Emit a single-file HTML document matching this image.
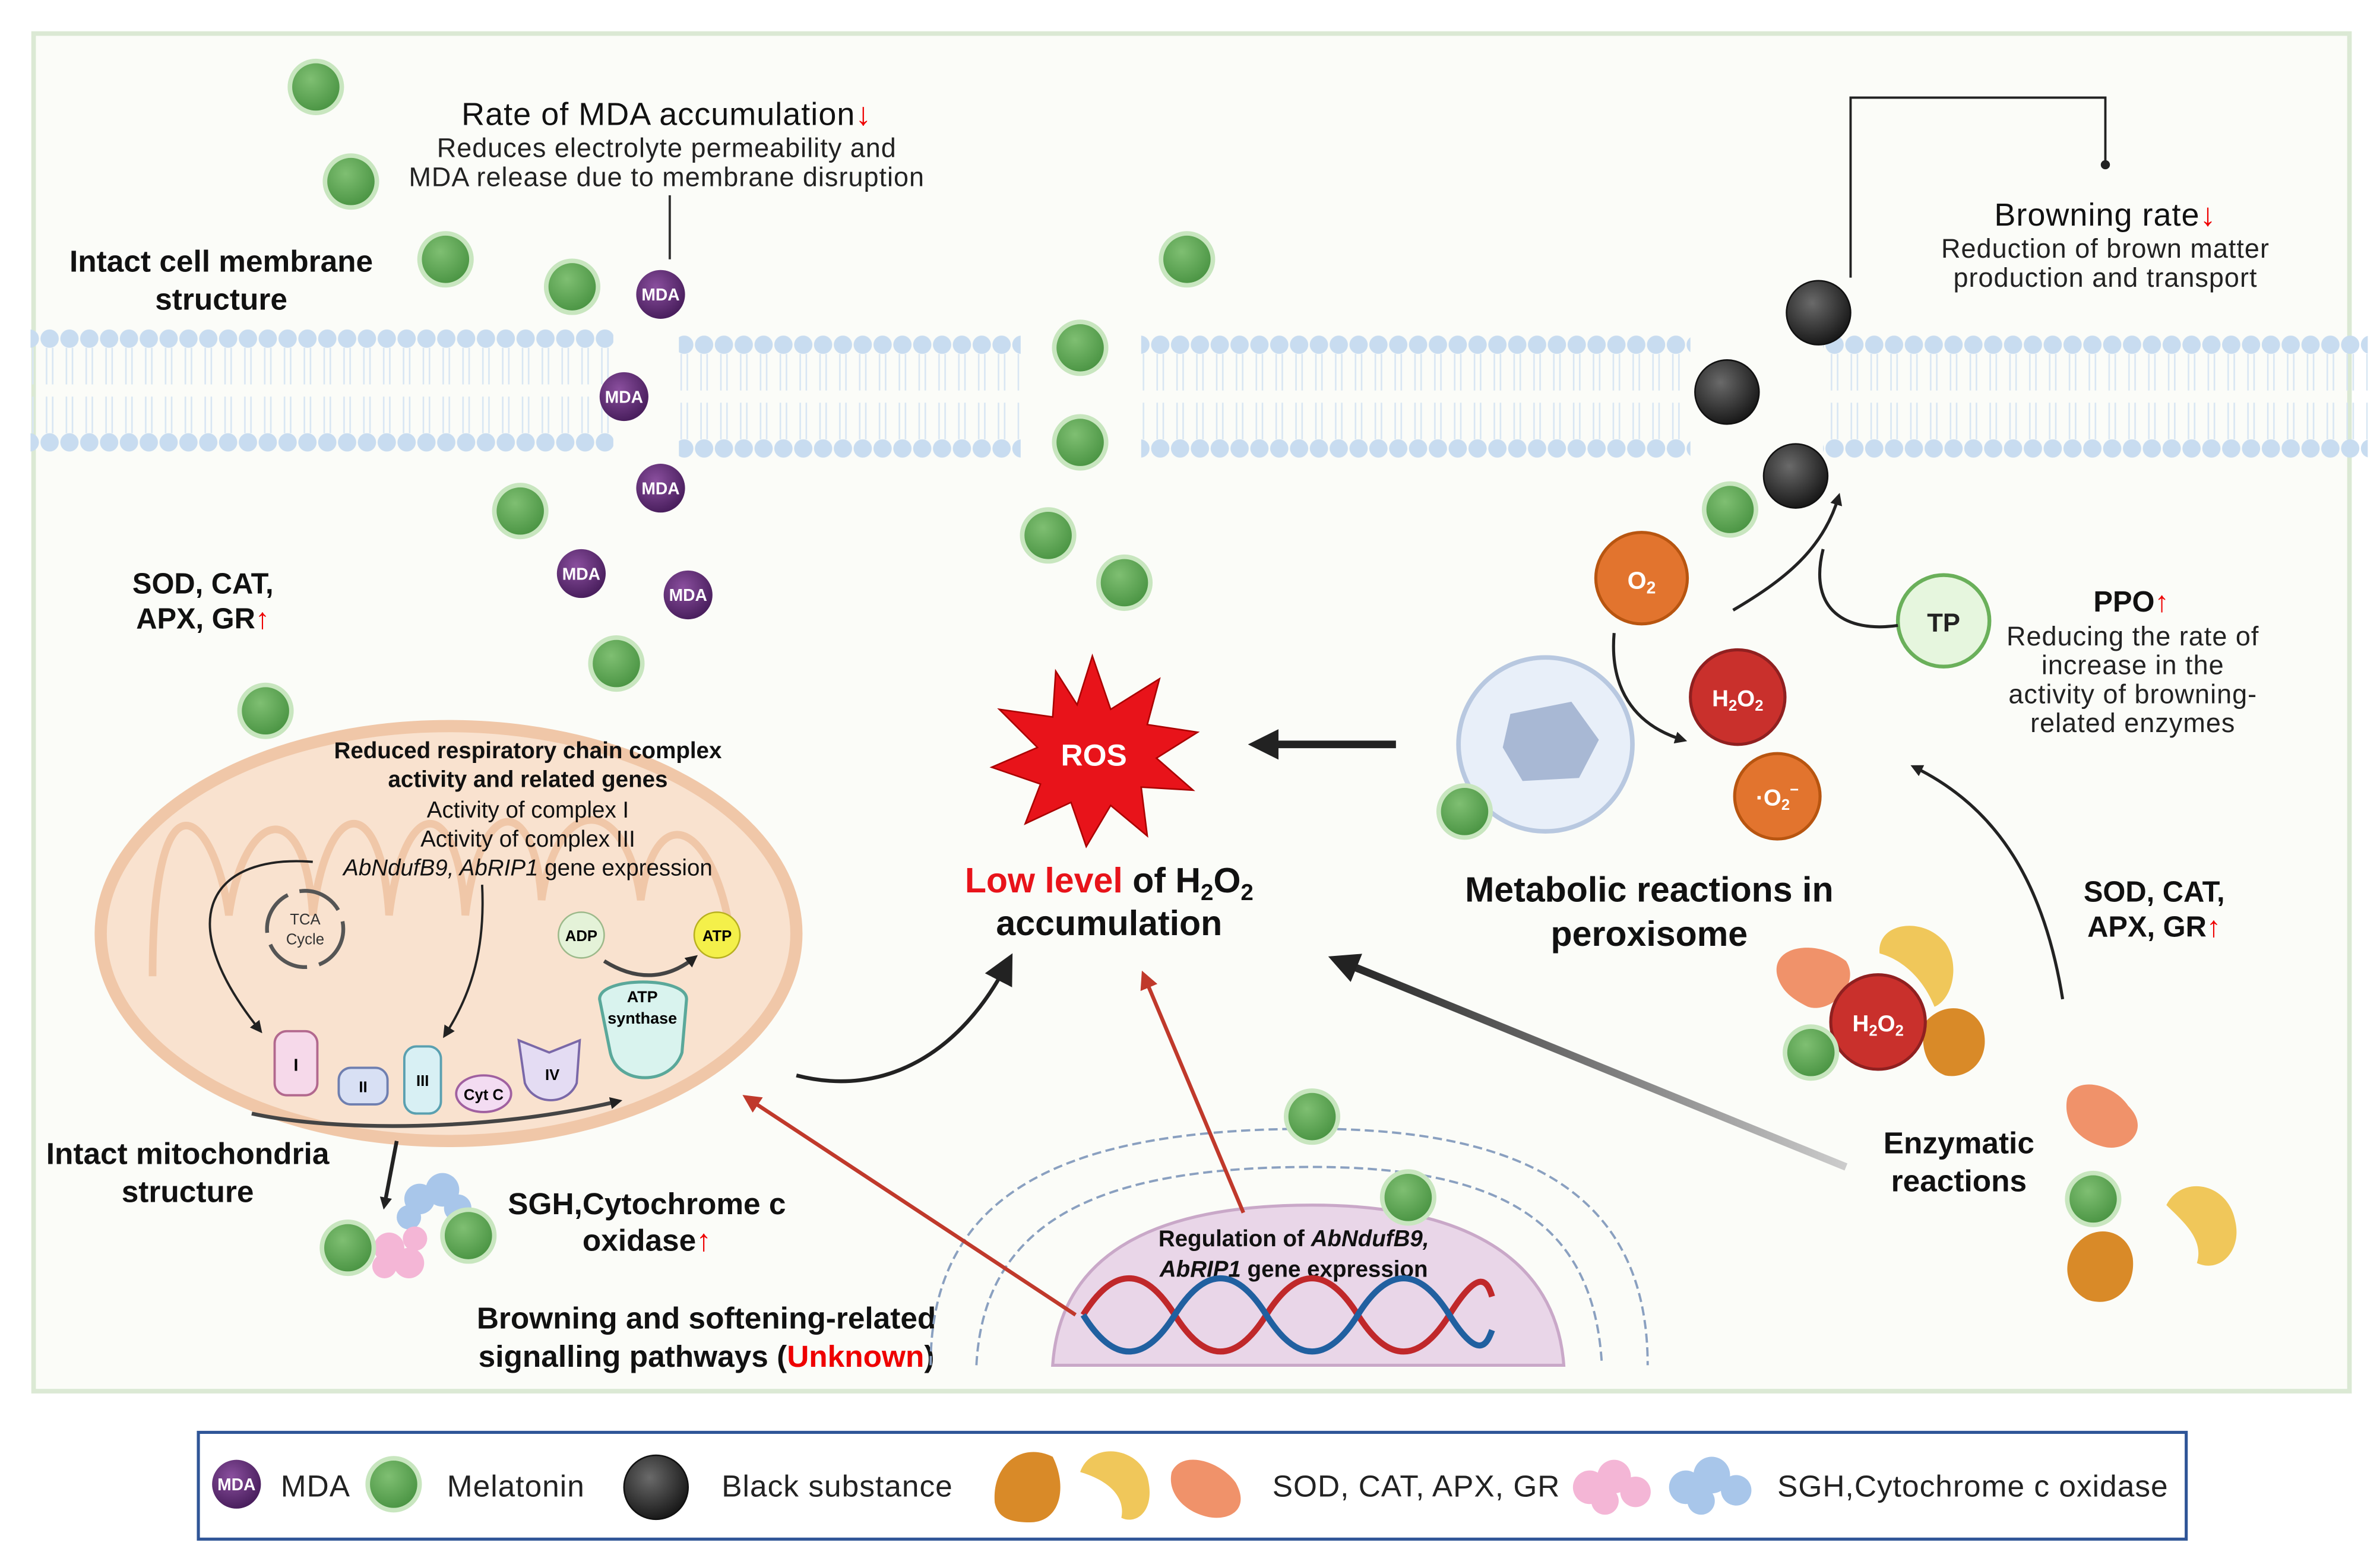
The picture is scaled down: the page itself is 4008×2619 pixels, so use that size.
<!DOCTYPE html>
<html><head><meta charset="utf-8"><style>
html,body{margin:0;padding:0;background:#fff;}
svg{display:block;font-family:"Liberation Sans",sans-serif;}
.b{font-weight:bold;}
.t{letter-spacing:0.4px;}
</style></head><body>
<svg width="4008" height="2619" viewBox="0 0 1560 1019.4" xmlns="http://www.w3.org/2000/svg">
<defs>
<radialGradient id="g" cx="40%" cy="35%" r="65%"><stop offset="0" stop-color="#7fbf72"/><stop offset="1" stop-color="#4a9443"/></radialGradient>
<radialGradient id="p" cx="40%" cy="35%" r="65%"><stop offset="0" stop-color="#8a4f9e"/><stop offset="1" stop-color="#4a1f5e"/></radialGradient>
<radialGradient id="k" cx="40%" cy="35%" r="65%"><stop offset="0" stop-color="#6a6a6a"/><stop offset="1" stop-color="#1a1a1a"/></radialGradient>
<pattern id="mem" x="0" y="216" width="13" height="80" patternUnits="userSpaceOnUse">
<circle cx="6.5" cy="6" r="6" fill="#c8dcf0"/><circle cx="6.5" cy="74" r="6" fill="#c8dcf0"/>
<path d="M4.5 12 V36 M8.5 12 V36 M4.5 44 V68 M8.5 44 V68" stroke="#d8e6f3" stroke-width="1" fill="none"/>
</pattern>
<pattern id="mem2" x="0" y="220" width="13" height="80" patternUnits="userSpaceOnUse">
<circle cx="6.5" cy="6" r="6" fill="#c8dcf0"/><circle cx="6.5" cy="74" r="6" fill="#c8dcf0"/>
<path d="M4.5 12 V36 M8.5 12 V36 M4.5 44 V68 M8.5 44 V68" stroke="#d8e6f3" stroke-width="1" fill="none"/>
</pattern>
<marker id="ab" markerWidth="8" markerHeight="8" refX="5" refY="4" orient="auto" markerUnits="userSpaceOnUse" viewBox="0 0 8 8"><path d="M0 0 L8 4 L0 8 z" fill="#222"/></marker>
<marker id="ar" markerWidth="12" markerHeight="12" refX="8" refY="6" orient="auto" markerUnits="userSpaceOnUse" viewBox="0 0 12 12"><path d="M0 0 L12 6 L0 12 z" fill="#c0392b"/></marker>
<marker id="abig" markerWidth="20" markerHeight="20" refX="12" refY="10" orient="auto" markerUnits="userSpaceOnUse" viewBox="0 0 20 20"><path d="M0 0 L20 10 L0 20 z" fill="#222"/></marker>
<linearGradient id="fade" x1="1" y1="0" x2="0" y2="0"><stop offset="0" stop-color="#ccc"/><stop offset="1" stop-color="#222"/></linearGradient>
</defs>
<rect x="22" y="22" width="1518" height="890" fill="#fbfcf8" stroke="#dbe9d4" stroke-width="3"/>
<!-- membrane -->
<rect x="20" y="216" width="382" height="80" fill="url(#mem)"/>
<rect x="445" y="220" width="224" height="80" fill="url(#mem2)"/>
<rect x="748" y="220" width="360" height="80" fill="url(#mem2)"/>
<rect x="1195" y="220" width="357" height="80" fill="url(#mem2)"/>
<!-- texts top -->
<text x="437" y="82" text-anchor="middle" font-size="21" class="t" fill="#111">Rate of MDA accumulation<tspan fill="#e00" class="b">↓</tspan></text>
<text x="437" y="103" text-anchor="middle" font-size="17.5" class="t" fill="#222">Reduces electrolyte permeability and</text>
<text x="437" y="122" text-anchor="middle" font-size="17.5" class="t" fill="#222">MDA release due to membrane disruption</text>
<line x1="439" y1="128" x2="439" y2="170" stroke="#333" stroke-width="1.5"/>
<text x="145" y="178" text-anchor="middle" font-size="20" class="b" fill="#111">Intact cell membrane</text>
<text x="145" y="203" text-anchor="middle" font-size="20" class="b" fill="#111">structure</text>
<path d="M1213 182 V64 H1380 V106" stroke="#222" stroke-width="1.5" fill="none"/><circle cx="1380" cy="108" r="3" fill="#222"/>
<text x="1380" y="148" text-anchor="middle" font-size="21" class="t" fill="#111">Browning rate<tspan fill="#e00" class="b">↓</tspan></text>
<text x="1380" y="169" text-anchor="middle" font-size="17.5" class="t" fill="#222">Reduction of brown matter</text>
<text x="1380" y="188" text-anchor="middle" font-size="17.5" class="t" fill="#222">production and transport</text>
<text x="133" y="389" text-anchor="middle" font-size="19" class="b" fill="#111">SOD, CAT,</text>
<text x="133" y="412" text-anchor="middle" font-size="19" class="b" fill="#111">APX, GR<tspan fill="#e00">↑</tspan></text>
<!-- mitochondria -->
<ellipse cx="294" cy="612" rx="228" ry="136" fill="#f9e2cf" stroke="#f0c7a8" stroke-width="8"/>
<path d="M100 640 C100 500 140 530 150 600 C160 530 200 520 205 600 C215 520 250 520 255 600 C265 520 300 520 305 600 C315 520 350 520 355 590 C365 520 410 520 420 590 C430 520 470 540 480 620" stroke="#f0c7a8" stroke-width="5" fill="none"/>
<text x="346" y="497" text-anchor="middle" font-size="15" class="b" fill="#111">Reduced respiratory chain complex</text>
<text x="346" y="516" text-anchor="middle" font-size="15" class="b" fill="#111">activity and related genes</text>
<text x="346" y="536" text-anchor="middle" font-size="15" fill="#111">Activity of complex I</text>
<text x="346" y="555" text-anchor="middle" font-size="15" fill="#111">Activity of complex III</text>
<text x="346" y="574" text-anchor="middle" font-size="15" fill="#111"><tspan font-style="italic">AbNdufB9, AbRIP1</tspan> gene expression</text>
<circle cx="200" cy="609" r="25" fill="none" stroke="#555" stroke-width="2.5" stroke-dasharray="30 8"/>
<text x="200" y="606" text-anchor="middle" font-size="10" fill="#333">TCA</text><text x="200" y="619" text-anchor="middle" font-size="10" fill="#333">Cycle</text>
<path d="M205 565 C140 560 110 600 170 675" stroke="#222" stroke-width="1.5" fill="none" marker-end="url(#ab)"/>
<path d="M316 580 C318 620 310 650 292 678" stroke="#222" stroke-width="1.5" fill="none" marker-end="url(#ab)"/>
<circle cx="381" cy="613" r="15" fill="#e4f2d8" stroke="#9cb98a"/><text x="381" y="617" text-anchor="middle" font-size="10" class="b">ADP</text>
<circle cx="470" cy="613" r="15" fill="#f4f04a" stroke="#b8b020"/><text x="470" y="617" text-anchor="middle" font-size="10" class="b">ATP</text>
<path d="M396 630 C420 645 440 640 455 628" stroke="#444" stroke-width="2.5" fill="none" marker-end="url(#ab)"/>
<path d="M393 655 C393 640 450 640 450 655 L447 690 C440 712 405 712 400 690 Z" fill="#d9f3ee" stroke="#5aa89a" stroke-width="2"/>
<text x="421" y="657" text-anchor="middle" font-size="10.5" class="b">ATP</text><text x="421" y="671" text-anchor="middle" font-size="10.5" class="b">synthase</text>
<rect x="180" y="676" width="28" height="42" rx="8" fill="#f6d9ea" stroke="#b2688e" stroke-width="1.5"/><text x="194" y="702" text-anchor="middle" font-size="11" class="b">I</text>
<rect x="222" y="700" width="32" height="24" rx="8" fill="#d8e0f4" stroke="#6f7fb0" stroke-width="1.5"/><text x="238" y="716" text-anchor="middle" font-size="10" class="b">II</text>
<rect x="265" y="686" width="24" height="44" rx="8" fill="#d8f0f4" stroke="#5aa0b0" stroke-width="1.5"/><text x="277" y="712" text-anchor="middle" font-size="10" class="b">III</text>
<ellipse cx="317" cy="717" rx="18" ry="12" fill="#f3dcf2" stroke="#a060a0" stroke-width="1.5"/><text x="317" y="721" text-anchor="middle" font-size="10" class="b">Cyt C</text>
<path d="M340 682 L360 690 L380 682 L378 710 C372 725 350 725 344 710 Z" fill="#e4dcf3" stroke="#7a68a8" stroke-width="1.5"/><text x="362" y="708" text-anchor="middle" font-size="10" class="b">IV</text>
<path d="M165 730 C220 742 320 742 405 722" stroke="#444" stroke-width="2.5" fill="none" marker-end="url(#ab)"/>
<text x="123" y="763" text-anchor="middle" font-size="20" class="b" fill="#111">Intact mitochondria</text>
<text x="123" y="788" text-anchor="middle" font-size="20" class="b" fill="#111">structure</text>
<path d="M260 748 L252 790" stroke="#222" stroke-width="2.5" marker-end="url(#ab)"/>
<g fill="#a8c6ea"><circle cx="275" cy="786" r="10"/><circle cx="290" cy="780" r="11"/><circle cx="300" cy="792" r="9"/><circle cx="268" cy="798" r="8"/></g>
<g fill="#f4b6d6"><circle cx="255" cy="818" r="10"/><circle cx="268" cy="828" r="10"/><circle cx="252" cy="830" r="8"/><circle cx="272" cy="812" r="8"/></g>
<text x="424" y="796" text-anchor="middle" font-size="20" class="b" fill="#111">SGH,Cytochrome c</text>
<text x="424" y="820" text-anchor="middle" font-size="20" class="b" fill="#111">oxidase<tspan fill="#e00">↑</tspan></text>
<text x="463" y="871" text-anchor="middle" font-size="20" class="b" fill="#111">Browning and softening-related</text>
<text x="463" y="896" text-anchor="middle" font-size="20" class="b" fill="#111">signalling pathways (<tspan fill="#e00">Unknown</tspan>)</text>
<!-- nucleus -->
<path d="M610 895 C610 780 700 740 860 740 C1010 740 1080 790 1080 895" fill="none" stroke="#8aa0c0" stroke-width="1.5" stroke-dasharray="6 3"/>
<path d="M640 895 C645 800 720 765 860 765 C990 765 1045 805 1050 895" fill="none" stroke="#8aa0c0" stroke-width="1.5" stroke-dasharray="6 3"/>
<path d="M690 895 C695 820 760 790 860 790 C960 790 1020 825 1025 895 Z" fill="#e9d6e8" stroke="#c9a8c8" stroke-width="2"/>
<text x="848" y="817" text-anchor="middle" font-size="15" class="b" fill="#111">Regulation of <tspan font-style="italic">AbNdufB9,</tspan></text>
<text x="848" y="837" text-anchor="middle" font-size="15" class="b" fill="#111" font-style="italic">AbRIP1 <tspan font-style="normal">gene expression</tspan></text>
<path d="M710 862 C730 830 750 830 770 862 S810 894 830 862 S870 830 890 862 S930 894 950 862 S975 840 978 850" stroke="#c0282a" stroke-width="4" fill="none"/>
<path d="M710 862 C730 894 750 894 770 862 S810 830 830 862 S870 894 890 862 S930 830 950 862 S975 880 978 872" stroke="#2060a0" stroke-width="4" fill="none"/>
<!-- ROS -->
<polygon points="716,430 728,465 760,445 752,475 785,480 758,497 782,518 748,516 752,548 728,528 712,555 702,526 672,540 682,514 650,503 680,490 655,465 690,470 692,440 706,462" fill="#e8131a" stroke="#a00" stroke-width="1"/>
<text x="717" y="502" text-anchor="middle" font-size="20" class="b" fill="#fff">ROS</text>
<text x="727" y="585" text-anchor="middle" font-size="23" class="b" fill="#111"><tspan fill="#e8131a">Low level</tspan> of H<tspan font-size="15" dy="5">2</tspan><tspan dy="-5">O</tspan><tspan font-size="15" dy="5">2</tspan></text>
<text x="727" y="613" text-anchor="middle" font-size="23" class="b" fill="#111">accumulation</text>
<path d="M915 488 L826 488" stroke="#222" stroke-width="5" marker-end="url(#abig)"/>
<path d="M522 705 C580 720 630 690 660 632" stroke="#222" stroke-width="2.5" fill="none" marker-end="url(#abig)"/>
<path d="M1210 765 L878 630" stroke="url(#fade)" stroke-width="5" marker-end="url(#abig)"/>
<path d="M705 862 L490 720" stroke="#c0392b" stroke-width="2.5" marker-end="url(#ar)"/>
<path d="M815 795 L750 640" stroke="#c0392b" stroke-width="2.5" marker-end="url(#ar)"/>
<!-- peroxisome -->
<circle cx="1013" cy="488" r="57" fill="#e8eff9" stroke="#b8c8e0" stroke-width="3"/>
<path d="M990 468 L1030 460 L1048 485 L1035 510 L998 512 L985 490 Z" fill="#a8b8d4"/>
<text x="1081" y="591" text-anchor="middle" font-size="23" class="b" fill="#111">Metabolic reactions in</text>
<text x="1081" y="620" text-anchor="middle" font-size="23" class="b" fill="#111">peroxisome</text>
<circle cx="1076" cy="379" r="30" fill="#e2742e" stroke="#b85510" stroke-width="2"/><text x="1076" y="386" text-anchor="middle" font-size="16" fill="#fff" class="b">O<tspan font-size="11" dy="3">2</tspan></text>
<circle cx="1139" cy="457" r="31" fill="#c9302c" stroke="#902020" stroke-width="2"/><text x="1139" y="463" text-anchor="middle" font-size="15" fill="#fff" class="b">H<tspan font-size="10" dy="3">2</tspan><tspan dy="-3">O</tspan><tspan font-size="10" dy="3">2</tspan></text>
<circle cx="1165" cy="522" r="28" fill="#e2742e" stroke="#b85510" stroke-width="2"/><text x="1165" y="528" text-anchor="middle" font-size="15" fill="#fff" class="b">·O<tspan font-size="10" dy="3">2</tspan><tspan font-size="10" dy="-10">−</tspan></text>
<circle cx="1274" cy="407" r="30" fill="#e6f6de" stroke="#6ab05a" stroke-width="2.5"/><text x="1274" y="414" text-anchor="middle" font-size="17" class="b" fill="#222">TP</text>
<path d="M1058 415 C1055 450 1070 475 1103 485" stroke="#222" stroke-width="2" fill="none" marker-end="url(#ab)"/>
<path d="M1136 400 C1170 380 1195 360 1205 326" stroke="#222" stroke-width="2" fill="none" marker-end="url(#ab)"/>
<path d="M1244 410 C1210 415 1185 400 1195 360" stroke="#222" stroke-width="2" fill="none"/>
<text x="1397" y="401" text-anchor="middle" font-size="19" class="b" fill="#111">PPO<tspan fill="#e00">↑</tspan></text>
<text x="1398" y="423" text-anchor="middle" font-size="17.5" class="t" fill="#222">Reducing the rate of</text>
<text x="1398" y="442" text-anchor="middle" font-size="17.5" class="t" fill="#222">increase in the</text>
<text x="1398" y="461" text-anchor="middle" font-size="17.5" class="t" fill="#222">activity of browning-</text>
<text x="1398" y="480" text-anchor="middle" font-size="17.5" class="t" fill="#222">related enzymes</text>
<text x="1412" y="591" text-anchor="middle" font-size="19" class="b" fill="#111">SOD, CAT,</text>
<text x="1412" y="614" text-anchor="middle" font-size="19" class="b" fill="#111">APX, GR<tspan fill="#e00">↑</tspan></text>
<path d="M1352 655 C1340 580 1310 530 1255 503" stroke="#222" stroke-width="2" fill="none" marker-end="url(#ab)"/>
<text x="1284" y="756" text-anchor="middle" font-size="20" class="b" fill="#111">Enzymatic</text>
<text x="1284" y="781" text-anchor="middle" font-size="20" class="b" fill="#111">reactions</text>
<!-- enzymes -->
<g>
<path d="M1165 640 C1160 620 1190 615 1210 630 C1220 645 1200 665 1185 660 C1175 655 1168 650 1165 640Z" fill="#f0926a"/>
<path d="M1232 625 C1230 605 1260 600 1275 618 C1285 632 1280 655 1268 660 C1262 645 1250 630 1232 625Z" fill="#f0c75a"/>
<path d="M1262 670 C1275 655 1295 660 1300 675 C1305 695 1290 708 1275 705 C1262 700 1258 685 1262 670Z" fill="#d98a28"/>
<circle cx="1231" cy="670" r="31" fill="#c9302c" stroke="#902020" stroke-width="2"/><text x="1231" y="676" text-anchor="middle" font-size="15" fill="#fff" class="b">H<tspan font-size="10" dy="3">2</tspan><tspan dy="-3">O</tspan><tspan font-size="10" dy="3">2</tspan></text>
<path d="M1355 720 C1360 705 1385 710 1395 725 C1410 740 1395 755 1380 752 C1362 748 1352 735 1355 720Z" fill="#f0926a"/>
<path d="M1420 790 C1430 770 1460 775 1465 800 C1470 820 1455 835 1440 828 C1445 812 1430 800 1420 790Z" fill="#f0c75a"/>
<path d="M1358 820 C1370 800 1395 805 1398 825 C1400 845 1385 858 1368 852 C1355 845 1352 832 1358 820Z" fill="#d98a28"/>
</g>
<!-- melatonin -->
<g fill="url(#g)" stroke="#c8e6bf" stroke-width="3">
<circle cx="207" cy="57" r="17"/><circle cx="230" cy="119" r="17"/><circle cx="292" cy="170" r="17"/><circle cx="375" cy="188" r="17"/><circle cx="778" cy="170" r="17"/><circle cx="708" cy="228" r="17"/><circle cx="708" cy="290" r="17"/><circle cx="341" cy="335" r="17"/><circle cx="687" cy="351" r="17"/><circle cx="737" cy="382" r="17"/><circle cx="404" cy="435" r="17"/><circle cx="174" cy="466" r="17"/><circle cx="1134" cy="334" r="17"/><circle cx="960" cy="532" r="17"/><circle cx="860" cy="732" r="17"/><circle cx="923" cy="785" r="17"/><circle cx="1187" cy="690" r="17"/><circle cx="1372" cy="786" r="17"/><circle cx="228" cy="818" r="17"/><circle cx="307" cy="810" r="17"/>
</g>
<!-- MDA -->
<g fill="url(#p)"><circle cx="433" cy="193" r="16"/><circle cx="409" cy="260" r="16"/><circle cx="433" cy="320" r="16"/><circle cx="381" cy="376" r="16"/><circle cx="451" cy="390" r="16"/></g>
<g font-size="11" fill="#fff" text-anchor="middle" class="b"><text x="433" y="197">MDA</text><text x="409" y="264">MDA</text><text x="433" y="324">MDA</text><text x="381" y="380">MDA</text><text x="451" y="394">MDA</text></g>
<g fill="url(#k)" stroke="#111"><circle cx="1192" cy="205" r="21"/><circle cx="1132" cy="257" r="21"/><circle cx="1177" cy="312" r="21"/></g>
<!-- legend -->
<rect x="130" y="939" width="1303" height="70" fill="#fff" stroke="#2f5597" stroke-width="2"/>
<circle cx="155" cy="973" r="16" fill="url(#p)"/><text x="155" y="977" text-anchor="middle" font-size="11" fill="#fff" class="b">MDA</text>
<text x="184" y="981" font-size="20" class="t" fill="#222">MDA</text>
<circle cx="258" cy="973" r="17" fill="url(#g)" stroke="#c8e6bf" stroke-width="3"/>
<text x="293" y="981" font-size="20" class="t" fill="#222">Melatonin</text>
<circle cx="430" cy="975" r="21" fill="url(#k)" stroke="#111"/>
<text x="473" y="981" font-size="20" class="t" fill="#222">Black substance</text>
<path d="M652 985 C650 960 670 945 690 955 C700 975 695 998 675 998 C662 998 654 995 652 985Z" fill="#d98a28"/>
<path d="M708 965 C715 945 745 948 752 968 C758 990 745 1000 735 995 C738 980 725 970 708 965Z" fill="#f0c75a"/>
<path d="M768 965 C775 950 800 958 810 972 C820 990 805 998 790 994 C775 990 765 978 768 965Z" fill="#f0926a"/>
<text x="834" y="981" font-size="20" class="t" fill="#222">SOD, CAT, APX, GR</text>
<g fill="#f4b6d6"><circle cx="1042" cy="975" r="11"/><circle cx="1058" cy="968" r="11"/><circle cx="1072" cy="978" r="10"/><circle cx="1052" cy="984" r="9"/></g>
<g fill="#a8c6ea"><circle cx="1105" cy="975" r="11"/><circle cx="1122" cy="967" r="12"/><circle cx="1138" cy="977" r="10"/><circle cx="1115" cy="984" r="9"/></g>
<text x="1165" y="981" font-size="20" class="t" fill="#222">SGH,Cytochrome c oxidase</text>
</svg>
</body></html>
